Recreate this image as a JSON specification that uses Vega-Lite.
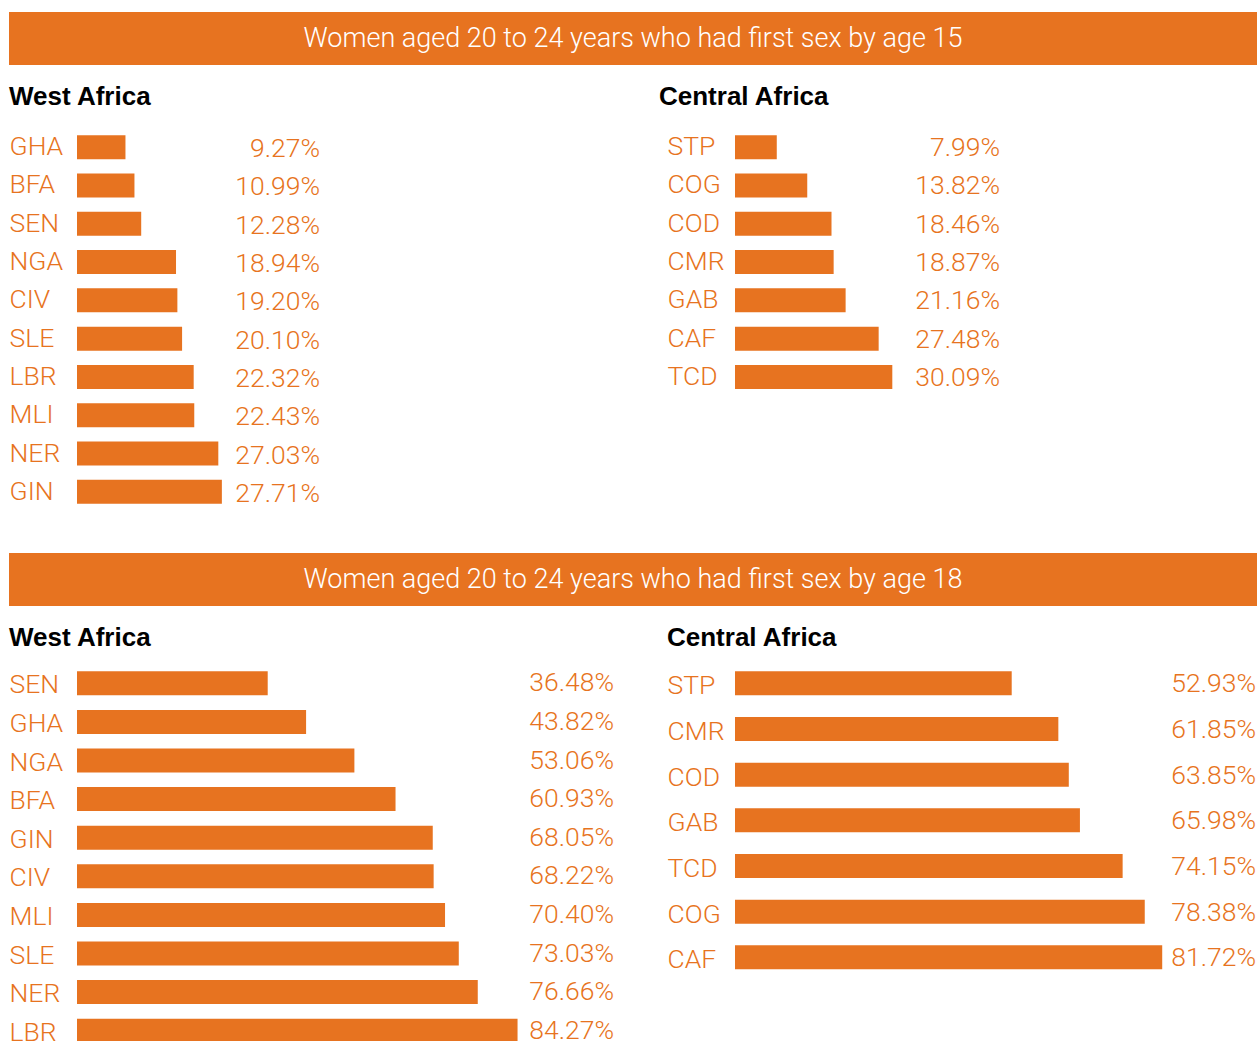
{
  "$schema": "https://vega.github.io/schema/vega-lite/v6.json",
  "padding": {"left": 9, "top": 12, "right": 0, "bottom": 0},
  "background": "white",
  "config": {"view": {"stroke": null}, "font": "Roboto"},
  "datasets": {
    "banner15": [{"title": "Women aged 20 to 24 years who had first sex by age 15"}],
    "banner18": [{"title": "Women aged 20 to 24 years who had first sex by age 18"}],
    "west15": [
      {"country": "GHA", "share": 0.0927},
      {"country": "BFA", "share": 0.1099},
      {"country": "SEN", "share": 0.1228},
      {"country": "NGA", "share": 0.1894},
      {"country": "CIV", "share": 0.1920},
      {"country": "SLE", "share": 0.2010},
      {"country": "LBR", "share": 0.2232},
      {"country": "MLI", "share": 0.2243},
      {"country": "NER", "share": 0.2703},
      {"country": "GIN", "share": 0.2771}
    ],
    "central15": [
      {"country": "STP", "share": 0.0799},
      {"country": "COG", "share": 0.1382},
      {"country": "COD", "share": 0.1846},
      {"country": "CMR", "share": 0.1887},
      {"country": "GAB", "share": 0.2116},
      {"country": "CAF", "share": 0.2748},
      {"country": "TCD", "share": 0.3009}
    ],
    "west18": [
      {"country": "SEN", "share": 0.3648},
      {"country": "GHA", "share": 0.4382},
      {"country": "NGA", "share": 0.5306},
      {"country": "BFA", "share": 0.6093},
      {"country": "GIN", "share": 0.6805},
      {"country": "CIV", "share": 0.6822},
      {"country": "MLI", "share": 0.7040},
      {"country": "SLE", "share": 0.7303},
      {"country": "NER", "share": 0.7666},
      {"country": "LBR", "share": 0.8427}
    ],
    "central18": [
      {"country": "STP", "share": 0.5293},
      {"country": "CMR", "share": 0.6185},
      {"country": "COD", "share": 0.6385},
      {"country": "GAB", "share": 0.6598},
      {"country": "TCD", "share": 0.7415},
      {"country": "COG", "share": 0.7838},
      {"country": "CAF", "share": 0.8172}
    ]
  },
  "spacing": 42,
  "vconcat": [
    {
      "spacing": 19,
      "vconcat": [
        {
          "width": 1248,
          "height": 53,
          "view": {"fill": "#E77320", "stroke": null},
          "data": {"name": "banner15"},
          "mark": {"type": "text", "color": "white", "fontSize": 27, "font": "Roboto", "fontWeight": 300, "baseline": "middle", "align": "center"},
          "encoding": {"text": {"field": "title", "type": "nominal"}}
        },
        {
          "spacing": 339,
          "hconcat": [
            {
              "width": 311,
              "height": 383,
              "data": {"name": "west15"},
              "title": {"text": "West Africa", "anchor": "start", "frame": "bounds", "fontSize": 26, "font": "Liberation Sans", "fontWeight": "bold", "color": "#000000", "offset": 18},
              "encoding": {
                "y": {"field": "country", "type": "nominal", "sort": null,
                  "scale": {"paddingInner": 0.373, "paddingOuter": 0.1865},
                  "axis": {"title": null, "domain": false, "ticks": false, "minExtent": 0, "labelAlign": "left", "labelPadding": 0, "labelBaseline": "alphabetic", "labelOffset": 8, "labelFontSize": 26.5, "labelFont": "Roboto", "labelFontWeight": 300, "labelColor": "#E77320"}}
              },
              "layer": [
                {"mark": {"type": "bar", "color": "#E77320"},
                 "encoding": {"x": {"field": "share", "type": "quantitative", "scale": {"domain": [0, 0.4648], "range": [68, 311], "nice": false}, "axis": null}}},
                {"mark": {"type": "text", "align": "right", "baseline": "alphabetic", "dy": 10, "fontSize": 26.5, "font": "Roboto", "fontWeight": 300, "color": "#E77320"},
                 "encoding": {"x": {"value": "width"}, "text": {"field": "share", "type": "quantitative", "format": ".2%"}}}
              ]
            },
            {
              "width": 333,
              "height": 268.1,
              "data": {"name": "central15"},
              "title": {"text": "Central Africa", "anchor": "start", "frame": "bounds", "fontSize": 26, "font": "Liberation Sans", "fontWeight": "bold", "color": "#000000", "offset": 18, "dx": -8},
              "encoding": {
                "y": {"field": "country", "type": "nominal", "sort": null,
                  "scale": {"paddingInner": 0.373, "paddingOuter": 0.1865},
                  "axis": {"title": null, "domain": false, "ticks": false, "minExtent": 0, "labelAlign": "left", "labelPadding": 0, "labelBaseline": "alphabetic", "labelOffset": 8, "labelFontSize": 26.5, "labelFont": "Roboto", "labelFontWeight": 300, "labelColor": "#E77320"}}
              },
              "layer": [
                {"mark": {"type": "bar", "color": "#E77320"},
                 "encoding": {"x": {"field": "share", "type": "quantitative", "scale": {"domain": [0, 0.5069], "range": [68, 333], "nice": false}, "axis": null}}},
                {"mark": {"type": "text", "align": "right", "baseline": "alphabetic", "dy": 9, "fontSize": 26.5, "font": "Roboto", "fontWeight": 300, "color": "#E77320"},
                 "encoding": {"x": {"value": "width"}, "text": {"field": "share", "type": "quantitative", "format": ".2%"}}}
              ]
            }
          ]
        }
      ]
    },
    {
      "spacing": 19,
      "vconcat": [
        {
          "width": 1248,
          "height": 53,
          "view": {"fill": "#E77320", "stroke": null},
          "data": {"name": "banner18"},
          "mark": {"type": "text", "color": "white", "fontSize": 27, "font": "Roboto", "fontWeight": 300, "baseline": "middle", "align": "center"},
          "encoding": {"text": {"field": "title", "type": "nominal"}}
        },
        {
          "spacing": 53,
          "hconcat": [
            {
              "width": 605,
              "height": 386,
              "data": {"name": "west18"},
              "title": {"text": "West Africa", "anchor": "start", "frame": "bounds", "fontSize": 26, "font": "Liberation Sans", "fontWeight": "bold", "color": "#000000", "offset": 13},
              "encoding": {
                "y": {"field": "country", "type": "nominal", "sort": null,
                  "scale": {"paddingInner": 0.378, "paddingOuter": 0.189},
                  "axis": {"title": null, "domain": false, "ticks": false, "minExtent": 0, "labelAlign": "left", "labelPadding": 0, "labelBaseline": "alphabetic", "labelOffset": 10, "labelFontSize": 26.5, "labelFont": "Roboto", "labelFontWeight": 300, "labelColor": "#E77320"}}
              },
              "layer": [
                {"mark": {"type": "bar", "color": "#E77320"},
                 "encoding": {"x": {"field": "share", "type": "quantitative", "scale": {"domain": [0, 1.0272], "range": [68, 605], "nice": false}, "axis": null}}},
                {"mark": {"type": "text", "align": "right", "baseline": "alphabetic", "dy": 8, "fontSize": 26.5, "font": "Roboto", "fontWeight": 300, "color": "#E77320"},
                 "encoding": {"x": {"value": "width"}, "text": {"field": "share", "type": "quantitative", "format": ".2%"}}}
              ]
            },
            {
              "width": 589,
              "height": 312.6,
              "data": {"name": "central18"},
              "title": {"text": "Central Africa", "anchor": "start", "frame": "bounds", "fontSize": 26, "font": "Liberation Sans", "fontWeight": "bold", "color": "#000000", "offset": 13},
              "encoding": {
                "y": {"field": "country", "type": "nominal", "sort": null,
                  "scale": {"paddingInner": 0.4745, "paddingOuter": 0.16},
                  "axis": {"title": null, "domain": false, "ticks": false, "minExtent": 0, "labelAlign": "left", "labelPadding": 0, "labelBaseline": "alphabetic", "labelOffset": 11, "labelFontSize": 26.5, "labelFont": "Roboto", "labelFontWeight": 300, "labelColor": "#E77320"}}
              },
              "layer": [
                {"mark": {"type": "bar", "color": "#E77320"},
                 "encoding": {"x": {"field": "share", "type": "quantitative", "scale": {"domain": [0, 0.9966], "range": [68, 589], "nice": false}, "axis": null}}},
                {"mark": {"type": "text", "align": "right", "baseline": "alphabetic", "dy": 9, "fontSize": 26.5, "font": "Roboto", "fontWeight": 300, "color": "#E77320"},
                 "encoding": {"x": {"value": "width"}, "text": {"field": "share", "type": "quantitative", "format": ".2%"}}}
              ]
            }
          ]
        }
      ]
    }
  ]
}
